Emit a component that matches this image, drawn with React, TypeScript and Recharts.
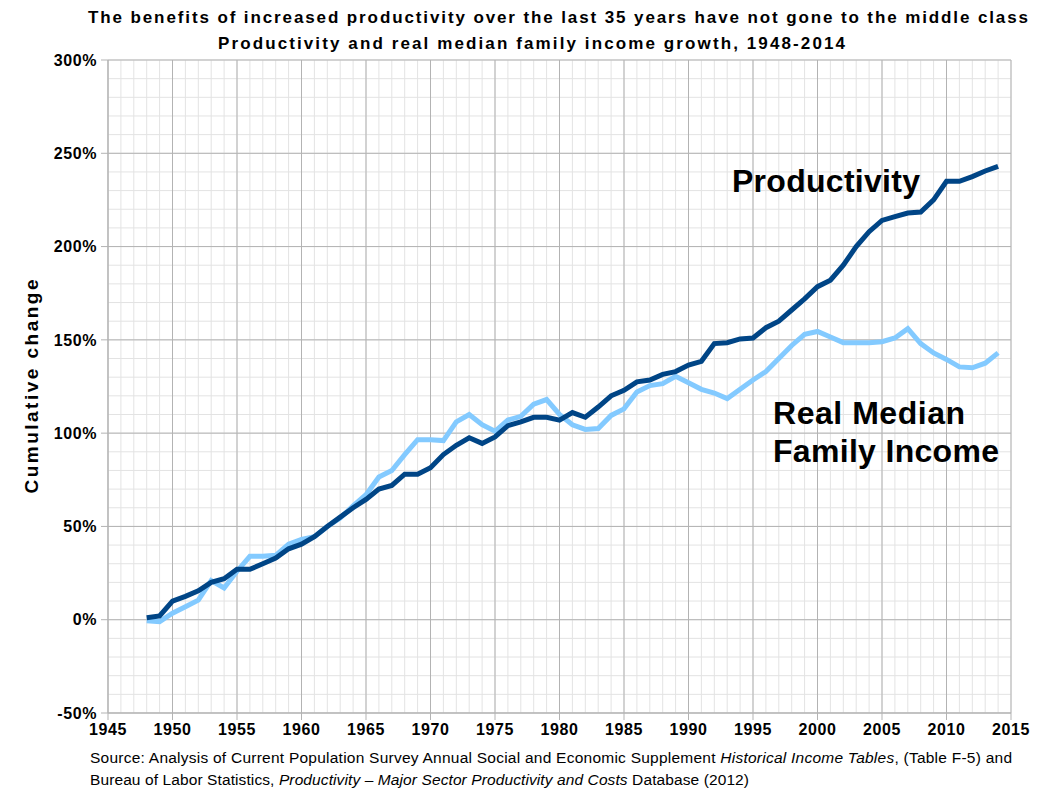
import { CartesianGrid, Label, Line, LineChart, XAxis, YAxis } from "recharts";

const YEARS = [
  1948, 1949, 1950, 1951, 1952, 1953, 1954, 1955, 1956, 1957, 1958, 1959, 1960, 1961, 1962, 1963, 1964,
  1965, 1966, 1967, 1968, 1969, 1970, 1971, 1972, 1973, 1974, 1975, 1976, 1977, 1978, 1979, 1980, 1981,
  1982, 1983, 1984, 1985, 1986, 1987, 1988, 1989, 1990, 1991, 1992, 1993, 1994, 1995, 1996, 1997, 1998,
  1999, 2000, 2001, 2002, 2003, 2004, 2005, 2006, 2007, 2008, 2009, 2010, 2011, 2012, 2013, 2014,
];

// cumulative change since 1948, in percent
const PRODUCTIVITY = [
  1, 2, 10, 12.5, 15.5, 20, 22, 27, 27, 30, 33, 38, 40.5, 44.5, 50, 55, 60,
  64.5, 70, 72, 78, 78, 81.5, 88.5, 93.5, 97.5, 94.5, 98, 104, 106, 108.5, 108.5, 107, 111,
  108.5, 114, 120, 123, 127.5, 128.5, 131.5, 133, 136.5, 138.5, 148, 148.5, 150.5, 151, 156.5, 160, 166,
  172, 178.5, 182, 190, 200, 208, 214, 216, 218, 218.5, 225, 235, 235, 237.5, 240.5, 243,
];

const MEDIAN_INCOME = [
  -0.5, -1, 3.5, 7, 10.5, 21, 17, 26, 34, 34, 34.5, 40.5, 43, 44.5, 50, 54.5, 61,
  67, 76.5, 80, 88.5, 96.5, 96.5, 96, 106, 110, 104.5, 101, 107, 109, 115.5, 118, 110, 104.5,
  102, 102.5, 109.5, 113, 122, 125.5, 126.5, 130.5, 127, 123.5, 121.5, 118.5, 123.5, 128.5, 133, 140, 147,
  153, 154.5, 151.5, 148.5, 148.5, 148.5, 149, 151, 156, 148, 143, 139.5, 135.5, 135, 137.5, 143,
];

const X_TICKS = [1945, 1950, 1955, 1960, 1965, 1970, 1975, 1980, 1985, 1990, 1995, 2000, 2005, 2010, 2015];
const Y_TICKS = [-50, 0, 50, 100, 150, 200, 250, 300];
const X_MINOR = Array.from({ length: 71 }, (_, i) => 1945 + i);
const Y_MINOR = Array.from({ length: 36 }, (_, i) => -50 + i * 10);

const FONT = '"Liberation Sans", Arial, sans-serif';
const GRID_MAJOR = "#b3b3b3";
const GRID_MINOR = "#e3e3e3";

const data = YEARS.map((year, i) => ({
  year,
  productivity: PRODUCTIVITY[i],
  income: MEDIAN_INCOME[i],
}));

const toPixel = (axis: any) => (v: number) => {
  const s = axis?.scale;
  if (typeof s === "function") return s(v);
  if (s && typeof s.map === "function") return s.map(v);
  return 0;
};

export default function App() {
  return (
    <div style={{ position: "absolute", left: 0, top: 0, width: 1047, height: 788, background: "#fff" }}>
      <LineChart
        width={1047}
        height={788}
        data={data}
        margin={{ top: 60, right: 36, bottom: 45, left: 0 }}
        style={{ fontFamily: FONT }}
      >
        <CartesianGrid
          stroke={GRID_MINOR}
          strokeWidth={1}
          verticalCoordinatesGenerator={({ xAxis }: any) => X_MINOR.map(toPixel(xAxis))}
          horizontalCoordinatesGenerator={({ yAxis }: any) => Y_MINOR.map(toPixel(yAxis))}
        />
        <CartesianGrid stroke={GRID_MAJOR} strokeWidth={1} />
        <XAxis
          dataKey="year"
          type="number"
          domain={[1945, 2015]}
          ticks={X_TICKS}
          interval={0}
          height={30}
          stroke={GRID_MAJOR}
          tickSize={7}
          tickMargin={4}
          tick={{ fill: "#000", fontSize: 16, fontWeight: "bold", letterSpacing: 0.6 }}
        />
        <YAxis
          type="number"
          domain={[-50, 300]}
          ticks={Y_TICKS}
          interval={0}
          width={108}
          stroke={GRID_MAJOR}
          tickSize={7}
          tickMargin={4}
          tickFormatter={(v) => `${v}%`}
          tick={{ fill: "#000", fontSize: 16, fontWeight: "bold", letterSpacing: 0.6 }}
        >
          <Label
            content={({ viewBox }: any) => {
              const cy = viewBox.y + viewBox.height / 2;
              return (
                <text
                  x={37.5}
                  y={cy}
                  transform={`rotate(-90, 37.5, ${cy})`}
                  textAnchor="middle"
                  fontSize={19}
                  fontWeight="bold"
                  fill="#000"
                  textLength={214}
                  lengthAdjust="spacing"
                >
                  Cumulative change
                </text>
              );
            }}
          />
        </YAxis>
        <Line
          type="linear"
          dataKey="income"
          stroke="#83caff"
          strokeWidth={5}
          dot={false}
          isAnimationActive={false}
        />
        <Line
          type="linear"
          dataKey="productivity"
          stroke="#004586"
          strokeWidth={5}
          dot={false}
          isAnimationActive={false}
        />

        <text x={88} y={22.5} fontSize={17} fontWeight="bold" fill="#000" textLength={940} lengthAdjust="spacing">
          The benefits of increased productivity over the last 35 years have not gone to the middle class
        </text>
        <text x={218} y={49} fontSize={17} fontWeight="bold" fill="#000" textLength={627} lengthAdjust="spacing">
          Productivity and real median family income growth, 1948-2014
        </text>

        <text x={732} y={192} fontSize={32} fontWeight="bold" fill="#000" textLength={188} lengthAdjust="spacing">
          Productivity
        </text>
        <text x={773} y={424} fontSize={32} fontWeight="bold" fill="#000" textLength={192} lengthAdjust="spacing">
          Real Median
        </text>
        <text x={773} y={462} fontSize={32} fontWeight="bold" fill="#000" textLength={226} lengthAdjust="spacing">
          Family Income
        </text>

        <text x={90} y={762.5} fontSize={15.5} fill="#000" textLength={922} lengthAdjust="spacing">
          Source:  Analysis of Current Population Survey Annual Social and Economic Supplement{" "}
          <tspan fontStyle="italic">Historical Income Tables</tspan>, (Table F-5) and
        </text>
        <text x={90} y={784.5} fontSize={15.5} fill="#000" textLength={659} lengthAdjust="spacing">
          Bureau of Labor Statistics, <tspan fontStyle="italic">Productivity – Major Sector Productivity and Costs</tspan>{" "}
          Database (2012)
        </text>
      </LineChart>
    </div>
  );
}
